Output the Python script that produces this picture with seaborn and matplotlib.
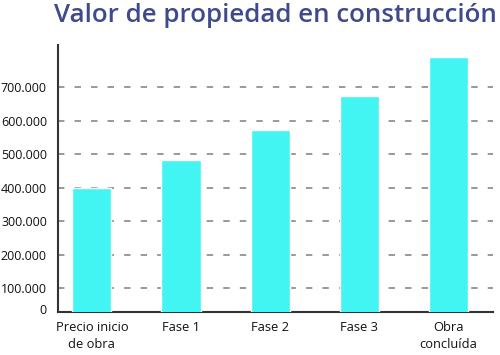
import matplotlib
matplotlib.use("Agg")
import matplotlib.pyplot as plt
import seaborn as sns
import numpy as np

categories = ["Precio inicio\nde obra", "Fase 1", "Fase 2", "Fase 3", "Obra\nconcluída"]
values = [400000, 484000, 572000, 673000, 791000]
tick_values = [0, 100000, 200000, 300000, 400000, 500000, 600000, 700000]
tick_labels = ["0", "100.000", "200.000", "300.000", "400.000", "500.000", "600.000", "700.000"]

sns.set_theme(style="white")
plt.rcParams['font.family'] = ['Open Sans', 'DejaVu Sans']

fig = plt.figure(figsize=(5, 3.55), dpi=100)
ax = fig.add_axes([0.116, 0.12, 0.87, 0.753])

sns.barplot(x=categories, y=values, color="#42F5F3", saturation=1, width=0.44, ax=ax, zorder=3)

ymin, ymax = 28000, 826000
ax.set_ylim(ymin, ymax)
ax.set_xlim(-0.38, 4.5)

ypos = [max(v, ymin) for v in tick_values]
ypos[0] = ymin + 9000
ax.set_yticks(ypos)
ax.set_yticklabels(tick_labels, fontsize=9, color="#111111")
for v in tick_values[1:]:
    ax.axhline(v, color="#999999", lw=1.4, ls=(0, (3.3, 5.2)), zorder=1)

ax.set_xticks(range(len(categories)))
ax.set_xticklabels(categories, fontsize=9.3, color="#111111", linespacing=1.4)
ax.set_xticks(np.arange(len(categories)) + 0.5, minor=True)
ax.tick_params(axis="x", which="major", length=0, pad=6)
ax.tick_params(axis="x", which="minor", length=6, width=1.3, color="#333333", direction="out")
ax.tick_params(axis="y", length=0, pad=8)
ax.set_xlabel("")
ax.set_ylabel("")

for s in ["top", "right"]:
    ax.spines[s].set_visible(False)
for s in ["left", "bottom"]:
    ax.spines[s].set_color("#333333")
    ax.spines[s].set_linewidth(1.5)

fig.text(0.551, 0.955, "Valor de propiedad en construcción", ha="center", va="center",
         fontsize=18.6, color="#3F4A8C", fontweight="semibold")

fig.savefig("out.png", dpi=100)
